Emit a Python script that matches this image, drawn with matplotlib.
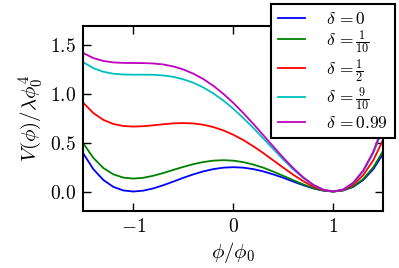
# Potencial V(phi) / lambda phi0^4 para distintos valores de delta

import numpy as np
import matplotlib.pyplot as plt

plt.rcParams["font.family"] = "serif"
plt.rcParams["font.serif"] = ["cmr10"]
plt.rcParams["mathtext.fontset"] = "cm"
plt.rcParams["axes.formatter.use_mathtext"] = True

# valores
phi = [-1.5, -1.4, -1.3, -1.2, -1.1, -1.0, -0.9, -0.8, -0.7, -0.6, -0.5,
       -0.4, -0.3, -0.2, -0.1, 0.0, 0.1, 0.2, 0.3, 0.4, 0.5,
       0.6, 0.7, 0.8, 0.9, 1.0, 1.1, 1.2, 1.3, 1.4, 1.5]

v_delta_0 = [0.391, 0.230, 0.119, 0.048, 0.011, 0.000, 0.009, 0.032, 0.065, 0.102, 0.141,
             0.176, 0.207, 0.230, 0.245, 0.250, 0.245, 0.230, 0.207, 0.176, 0.141,
             0.102, 0.065, 0.032, 0.009, 0.000, 0.011, 0.048, 0.119, 0.230, 0.391]
v_delta_01 = [0.495, 0.346, 0.242, 0.177, 0.143, 0.133, 0.141, 0.162, 0.190, 0.222, 0.253,
              0.281, 0.303, 0.317, 0.322, 0.317, 0.302, 0.277, 0.245, 0.205, 0.161,
              0.116, 0.073, 0.036, 0.010, 0.000, 0.012, 0.053, 0.129, 0.249, 0.420]
v_delta_05 = [0.911, 0.806, 0.736, 0.694, 0.673, 0.667, 0.671, 0.680, 0.691, 0.700, 0.703,
              0.699, 0.686, 0.662, 0.628, 0.583, 0.529, 0.465, 0.395, 0.320, 0.245,
              0.172, 0.106, 0.051, 0.014, 0.000, 0.016, 0.070, 0.169, 0.321, 0.536]
v_delta_09 = [1.328, 1.267, 1.230, 1.210, 1.202, 1.200, 1.200, 1.199, 1.192, 1.178, 1.153,
              1.117, 1.069, 1.008, 0.935, 0.850, 0.755, 0.653, 0.545, 0.436, 0.328,
              0.227, 0.138, 0.066, 0.018, 0.000, 0.020, 0.087, 0.208, 0.394, 0.653]
v_delta_099 = [1.422, 1.371, 1.341, 1.326, 1.321, 1.320, 1.319, 1.315, 1.305, 1.285, 1.254,
               1.211, 1.155, 1.086, 1.004, 0.910, 0.806, 0.695, 0.579, 0.462, 0.347,
               0.240, 0.145, 0.069, 0.019, 0.000, 0.021, 0.091, 0.217, 0.410, 0.679]

series = [v_delta_0, v_delta_01, v_delta_05, v_delta_09, v_delta_099]
labels = [r"$\delta\,{=}0$", r"$\delta\,{=}\frac{1}{10}$", r"$\delta\,{=}\frac{1}{2}$",
          r"$\delta\,{=}\frac{9}{10}$", r"$\delta\,{=}0.99$"]
colors = ["b", "g", "r", "c", "m"]

fig = plt.figure(figsize=(3.99, 2.68), dpi=100)
ax = fig.add_axes([83.3 / 399, 57 / 268, 300 / 399, 185 / 268])

for values, label, color in zip(series, labels, colors):
    ax.plot(phi, values, color=color, linewidth=1.3, label=label)

ax.set_xlim(-1.5, 1.5)
ax.set_ylim(-0.2, 1.7)
ax.set_xticks([-1, 0, 1])
ax.set_yticks([0.0, 0.5, 1.0, 1.5])
ax.tick_params(direction="in", top=True, right=True, length=6, width=1,
               labelsize=14, pad=5)
for spine in ax.spines.values():
    spine.set_linewidth(1.5)

ax.set_xlabel(r"$\phi/\phi_0$", fontsize=15, labelpad=3)
ax.set_ylabel(r"$V(\phi)/\lambda\phi_0^4$", fontsize=15, labelpad=4)

leg = fig.legend(loc="upper right", bbox_to_anchor=(395 / 399, 1 - 4 / 268),
                 borderaxespad=0, fontsize=12.5, fancybox=False, framealpha=1,
                 edgecolor="black", handlelength=1.55, handletextpad=1.2,
                 labelspacing=0.08, borderpad=0.4)
leg.get_frame().set_linewidth(1.5)

fig.savefig("out.png", dpi=100)
